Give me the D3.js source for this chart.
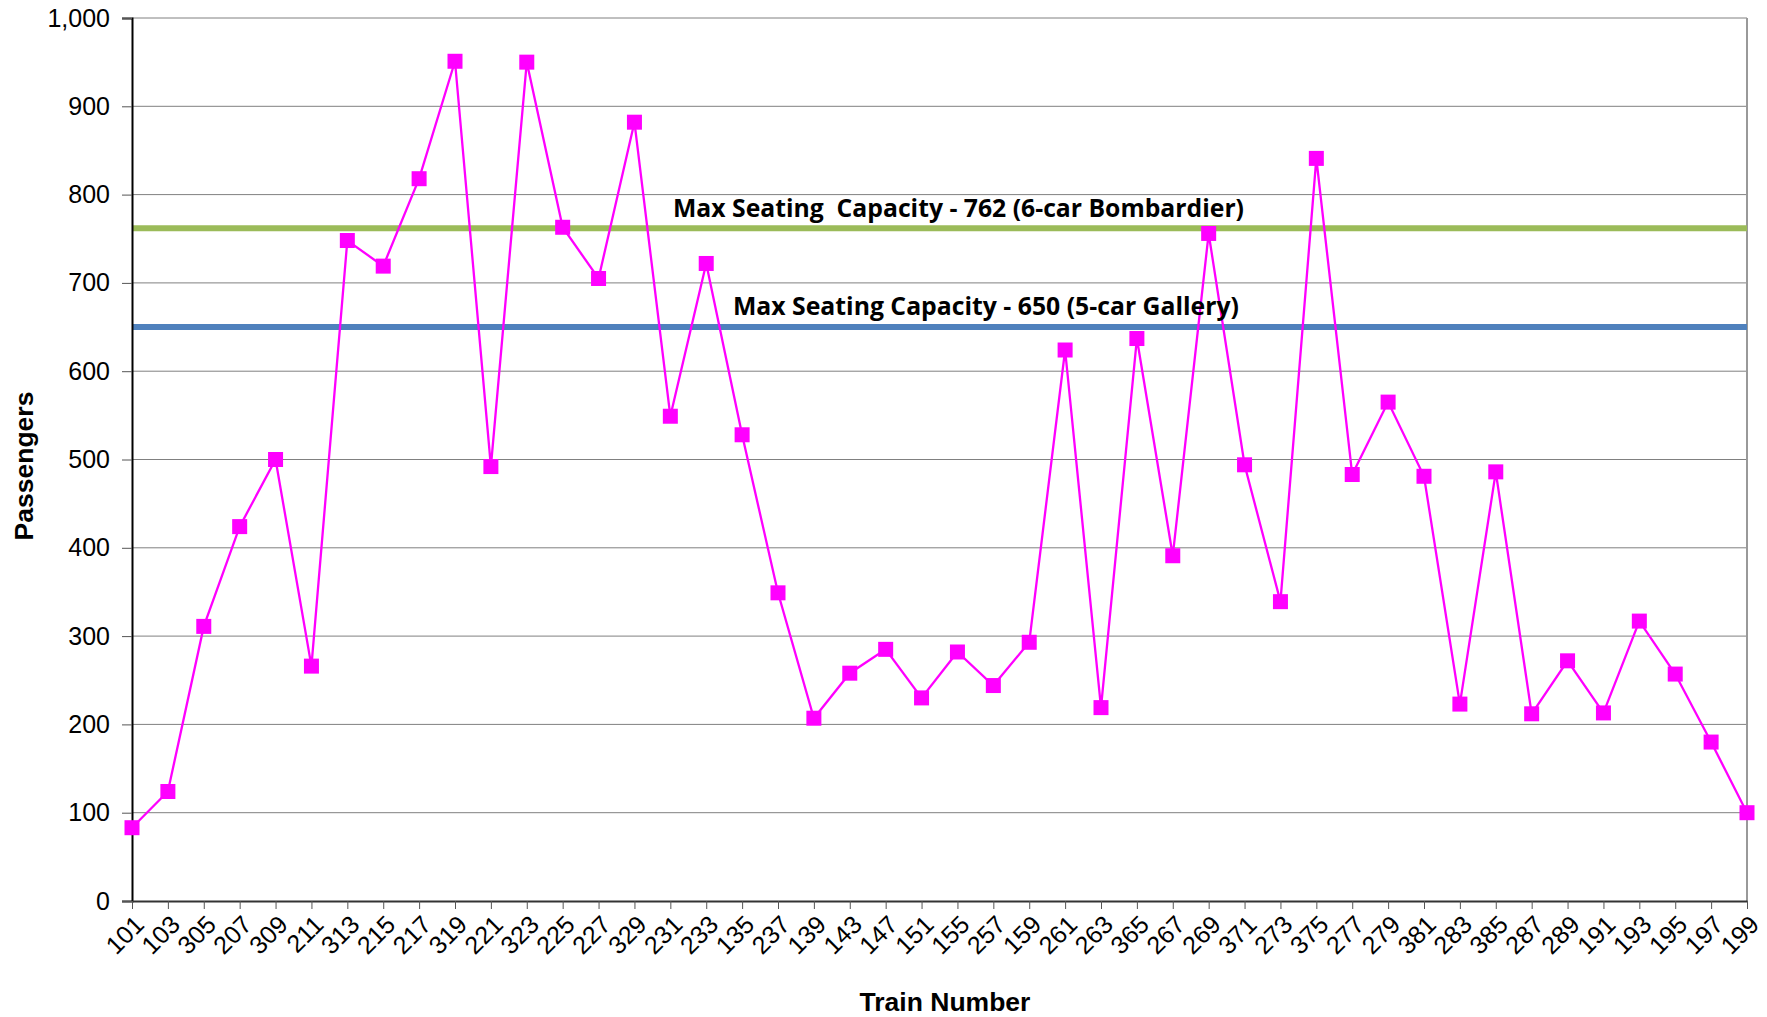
<!DOCTYPE html>
<meta charset="UTF-8">
<html>
<head>
<script src="https://d3js.org/d3.v7.min.js"></script>
<style>
	body { margin: 0; background: #fff; }
	.Tick text { font: 25px "Liberation Sans", Arial, sans-serif; fill: #000; }
	.Title { font: bold 26.5px "Liberation Sans", Arial, sans-serif; fill: #000; }
	.Note { font: bold 25px "Open Sans", "Noto Sans", sans-serif; fill: #000; }
</style>
</head>
<body>
<svg class="Chart"></svg>
<script type="text/javascript">
var TrainNumbers = ["101","103","305","207","309","211","313","215","217","319","221","323","225","227","329","231","233","135","237","139","143","147","151","155","257","159","261","263","365","267","269","371","273","375","277","279","381","283","385","287","289","191","193","195","197","199"];
var Passengers = [83,124,311,424,500,266,748,719,818,951,492,950,763,705,882,549,722,528,349,207,258,285,230,282,244,293,624,219,637,391,756,494,339,841,483,565,481,223,486,212,272,213,317,257,180,100];
var YTicks = [0,100,200,300,400,500,600,700,800,900,1000];
var CapacityValues = [762, 650];
var CapacityLabels = ["Max Seating  Capacity - 762 (6-car Bombardier)", "Max Seating Capacity - 650 (5-car Gallery)"];
var CapacityColors = ["#9BBB59", "#4F81BD"];

var Width = 1767, Height = 1017;
var Margin = {"Left":132, "Top":18, "Right":20, "Bottom":116};
var PlotW = Width - Margin.Left - Margin.Right;
var PlotH = Height - Margin.Top - Margin.Bottom;

var Svg = d3.select(".Chart").attr("width", Width).attr("height", Height);
var Plot = Svg.append("g").attr("transform", "translate(" + Margin.Left + "," + Margin.Top + ")");

var XScale = d3.scalePoint().domain(TrainNumbers).range([0, PlotW]).padding(0);
var YScale = d3.scaleLinear().domain([0, 1000]).range([PlotH, 0]);

// gridlines
Plot.selectAll("line.Grid")
	.data(YTicks.slice(1))
	.enter().append("line")
	.attr("class", "Grid")
	.attr("x1", 0).attr("x2", PlotW)
	.attr("y1", function(d){ return YScale(d); })
	.attr("y2", function(d){ return YScale(d); })
	.attr("stroke", "#808080").attr("stroke-width", 1);

// right border
Plot.append("line")
	.attr("x1", PlotW).attr("x2", PlotW).attr("y1", 0).attr("y2", PlotH)
	.attr("stroke", "#999").attr("stroke-width", 2);

// capacity lines
CapacityValues.forEach(function(v, i)
{
	Plot.append("line")
		.attr("x1", 0).attr("x2", PlotW)
		.attr("y1", YScale(v)).attr("y2", YScale(v))
		.attr("stroke", CapacityColors[i]).attr("stroke-width", 6);
});

// y axis
var YAxis = Plot.append("g").attr("class", "Tick")
	.call(d3.axisLeft(YScale).tickValues(YTicks).tickSize(10).tickPadding(12).tickFormat(d3.format(",")));
YAxis.select(".domain").attr("stroke", "#000").attr("stroke-width", 2);
YAxis.selectAll(".tick line").attr("stroke", "#555");

// x axis
var XAxis = Plot.append("g").attr("class", "Tick")
	.attr("transform", "translate(0," + PlotH + ")")
	.call(d3.axisBottom(XScale).tickSize(8).tickSizeOuter(0));
XAxis.select(".domain").attr("stroke", "#333").attr("stroke-width", 2);
XAxis.selectAll(".tick line").attr("stroke", "#555");
XAxis.selectAll(".tick text")
	.attr("transform", "translate(7,19) rotate(-45)")
	.attr("dy", "0.35em")
	.attr("x", 0).attr("y", 0)
	.style("text-anchor", "end");

// capacity annotations
var NoteX = [673, 733], NoteY = [217, 315], NoteW = [571, 506];
CapacityLabels.forEach(function(t, i)
{
	Svg.append("text").attr("class", "Note")
		.attr("x", NoteX[i]).attr("y", NoteY[i])
		.attr("textLength", NoteW[i]).attr("lengthAdjust", "spacingAndGlyphs")
		.style("white-space", "pre")
		.text(t);
});

// series
Plot.append("path")
	.datum(Passengers)
	.attr("fill", "none").attr("stroke", "#FF00FF").attr("stroke-width", 2.3)
	.attr("d", d3.line()
		.x(function(d, i){ return XScale(TrainNumbers[i]); })
		.y(function(d){ return YScale(d); }));

var M = 15;
Plot.selectAll("rect.Marker")
	.data(Passengers)
	.enter().append("rect")
	.attr("class", "Marker")
	.attr("x", function(d, i){ return XScale(TrainNumbers[i]) - M/2; })
	.attr("y", function(d){ return YScale(d) - M/2; })
	.attr("width", M).attr("height", M)
	.attr("fill", "#FF00FF");

// axis titles
Svg.append("text").attr("class", "Title")
	.attr("x", 945).attr("y", 1011)
	.attr("text-anchor", "middle")
	.text("Train Number");

Svg.append("text").attr("class", "Title")
	.attr("transform", "translate(33,466) rotate(-90)")
	.attr("text-anchor", "middle")
	.text("Passengers");
</script>
</body>
</html>
